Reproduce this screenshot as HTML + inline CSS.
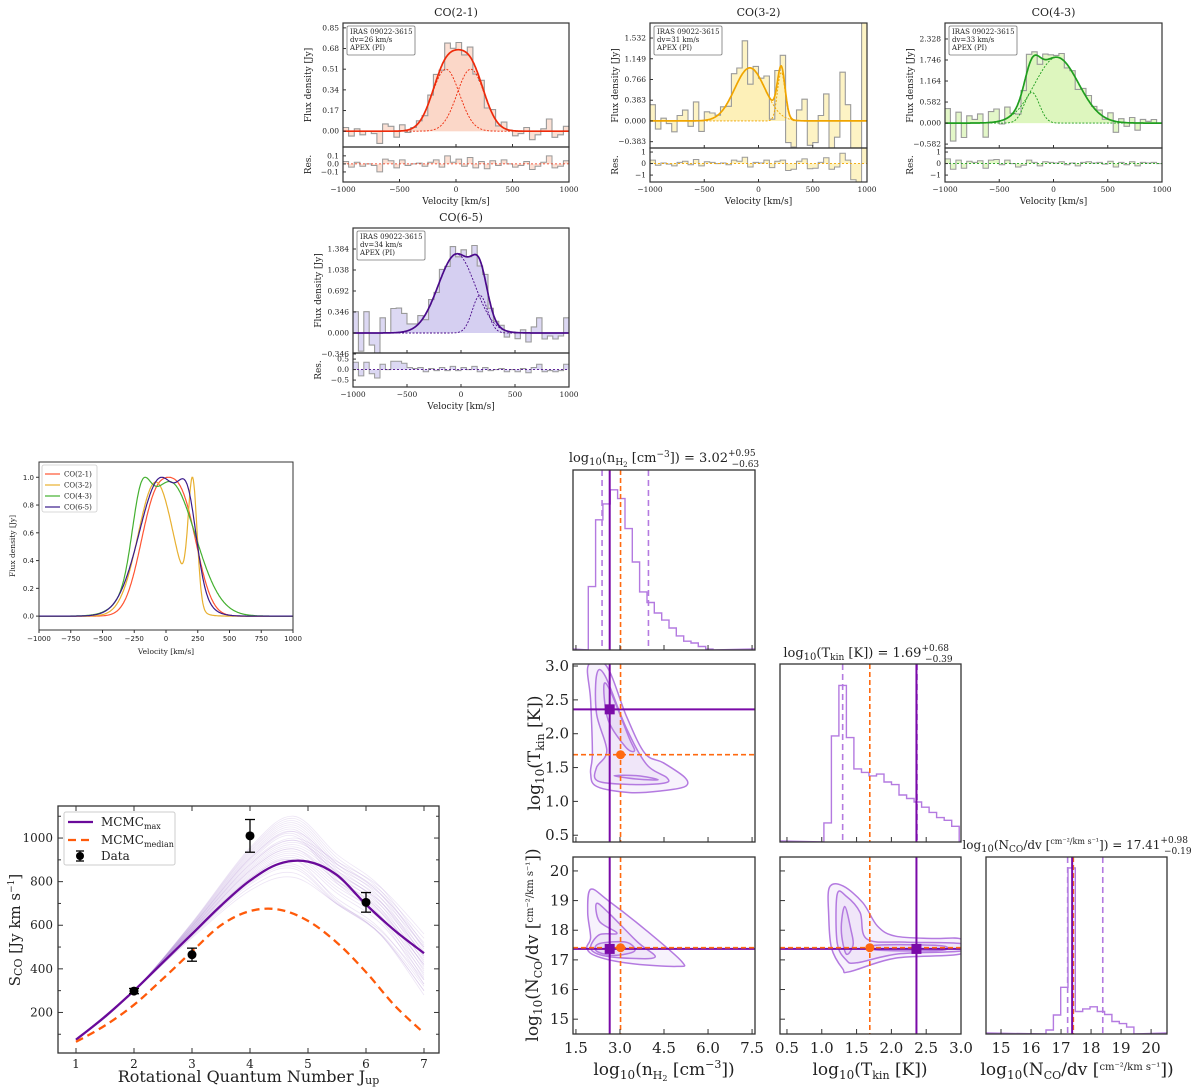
<!DOCTYPE html>
<html><head><meta charset="utf-8">
<style>
html,body{margin:0;padding:0;background:#fff;}
svg{display:block;font-family:"DejaVu Serif","Liberation Serif",serif;}
</style></head>
<body>
<svg id="fig" width="1200" height="1090" viewBox="0 0 1200 1090" xmlns="http://www.w3.org/2000/svg"></svg>
<script>
// ---------- DATA ----------
const binStart = -1000, binWidth = 50;
// Gaussian components [amp, centre, sigma]
const comps21 = [[0.51,-90,120],[0.51,130,120]];
const comps32 = [[0.98,-80,140],[0.90,210,35]];
const comps43 = [[0.85,-200,70],[1.82,30,200]];
const comps65 = [[1.30,-40,170],[0.62,175,70]];
// residuals per 50 km/s bin (Jy)
const res21 = [0.03,-0.04,0.02,-0.03,0.0,-0.02,-0.1,0.06,0.04,-0.05,0.05,-0.02,0.0,0.01,-0.03,0.02,0.05,-0.04,0.1,0.02,0.06,-0.03,0.08,-0.05,0.03,-0.06,0.04,-0.02,0.05,0.0,-0.04,-0.02,0.03,-0.07,-0.03,0.02,0.1,-0.05,-0.03,0.04];
const res32 = [0.3,-0.15,0.05,-0.05,-0.2,0.1,0.2,-0.1,0.35,-0.2,0.15,0.1,0.0,0.05,-0.1,0.3,0.2,0.55,-0.3,0.1,0.05,0.3,-0.35,0.2,0.3,-0.6,-0.5,0.2,0.4,-0.45,-0.4,0.1,0.5,-0.5,-0.3,0.9,0.3,-1.4,-1.8,2.2];
const res43 = [0.4,-0.5,0.3,-0.4,0.2,0.1,0.25,-0.4,0.3,0.35,-0.1,0.3,0.0,-0.3,-0.15,0.3,0.1,-0.2,0.15,0.1,0.05,0.15,-0.1,0.05,-0.2,0.1,0.15,0.05,0.1,-0.05,0.2,-0.3,0.1,-0.1,0.15,-0.2,0.1,0.05,0.1,0.0];
const res65 = [0.35,-0.3,0.35,-0.2,-0.4,0.25,0.0,0.4,0.4,0.3,0.1,0.05,0.1,-0.1,0.05,-0.05,0.1,-0.05,0.15,-0.05,0.1,0.0,0.15,-0.1,0.1,-0.05,0.0,0.05,-0.1,0.0,-0.1,0.05,-0.15,0.1,0.25,-0.1,-0.05,-0.1,-0.05,0.25];
const ticks21 = [0.00,0.17,0.34,0.51,0.68,0.85];
const ticks32 = [-0.383,0.000,0.383,0.766,1.149,1.532];
const ticks43 = [-0.582,0.000,0.582,1.164,1.746,2.328];
const ticks65 = [-0.346,0.000,0.346,0.692,1.038,1.384];
// SED
const sedJ = [1,1.5,2,2.5,3,3.5,4,4.5,5,5.5,6,6.5,7];
const sedMax = [75,180,300,430,560,690,805,882,892,830,695,575,472];
const sedMedian = [65,140,235,355,480,600,665,672,620,520,385,230,105];
const dataJ = [2,3,4,6];
const dataS = [298,465,1010,705];
const dataErr = [12,30,75,45];
const samplePeak = [860,880,900,910,920,930,940,950,960,970,980,990,1000,1010,1020,1030,1040,1050,1060,1070,1080,1090,1100,900,870,840,820,950,990,1030];
const sampleEnd = [300,330,360,380,400,420,440,460,480,500,520,540,560,330,350,370,390,410,430,450,470,490,510,280,300,320,350,420,460,500];
// corner histograms
const histN_start = 1.92, histN_w = 0.25;
const histN = [0.36,0.74,0.83,0.91,0.86,0.69,0.50,0.33,0.27,0.21,0.17,0.125,0.08,0.05,0.04,0.02,0.005];
const histT_start = 1.03, histT_w = 0.108;
const histT = [0.11,0.61,0.90,0.60,0.42,0.40,0.38,0.39,0.345,0.33,0.27,0.25,0.23,0.20,0.17,0.14,0.125,0.09];
const histC_start = 16.5, histC_w = 0.244;
const histC = [0.023,0.11,0.27,0.96,0.13,0.145,0.157,0.13,0.113,0.072,0.06,0.04];
const medN = 3.02, loN = 2.39, hiN = 3.97, maxN = 2.65;
const medT = 1.69, loT = 1.30, hiT = 2.37, maxT = 2.36;
const medC = 17.41, loC = 17.22, hiC = 18.39, maxC = 17.37;
// contours (data coords)
const contTN = [
 [[1.92,3.01],[2.54,3.0],[3.23,2.25],[3.85,1.71],[4.48,1.57],[5.22,1.35],[5.22,1.22],[4.48,1.16],[3.34,1.13],[2.21,1.22],[2.0,1.42],[2.06,1.71],[2.0,2.5]],
 [[2.21,2.88],[2.5,2.85],[3.2,2.1],[3.9,1.55],[4.6,1.35],[4.5,1.27],[3.4,1.25],[2.25,1.3],[2.2,1.5],[2.55,1.75],[2.2,2.3]],
 [[2.45,2.7],[2.65,2.65],[3.3,1.95],[3.5,1.75],[3.2,1.8],[2.6,2.2]],
 [[2.8,1.38],[3.6,1.33],[4.3,1.32],[3.6,1.38]]
];
const contCN = [
 [[2.0,19.38],[2.6,19.0],[3.85,18.03],[5.1,16.95],[4.94,16.78],[3.34,16.88],[2.21,17.12],[1.87,17.4],[2.0,17.75],[1.9,18.6]],
 [[2.2,18.9],[2.6,18.6],[3.6,17.6],[4.2,17.1],[3.4,17.05],[2.4,17.15],[2.0,17.4],[2.3,17.85],[2.9,17.9],[2.3,18.3]],
 [[2.3,17.55],[3.2,17.6],[3.5,17.3],[2.8,17.15],[2.2,17.3]]
];
const contCT = [
 [[1.11,19.44],[1.30,19.5],[1.59,18.93],[1.80,18.14],[2.06,17.80],[2.6,17.72],[3.0,17.7],[3.0,17.2],[2.06,17.06],[1.40,16.6],[1.30,16.7],[1.14,17.4],[1.1,18.5]],
 [[1.22,19.2],[1.35,19.15],[1.55,18.6],[1.65,17.7],[2.2,17.6],[3.0,17.55],[3.0,17.3],[2.1,17.2],[1.5,16.9],[1.35,17.0],[1.22,17.6]],
 [[1.33,18.8],[1.42,18.0],[1.45,17.5],[1.35,17.2],[1.28,18.0]],
 [[1.8,17.5],[2.7,17.48],[2.7,17.32],[1.8,17.33]]
];

// ---------- HELPERS ----------
const NS='http://www.w3.org/2000/svg';
const svg=document.getElementById('fig');
function mk(tag,attrs,parent){const e=document.createElementNS(NS,tag);for(const k in attrs)e.setAttribute(k,attrs[k]);(parent||svg).appendChild(e);return e;}
function txt(s,x,y,size,anchor,parent,extra){const t=mk('text',Object.assign({x:x,y:y,'font-size':size,'text-anchor':anchor||'middle',fill:'#222'},extra||{}),parent);t.innerHTML=s;return t;}
function lin(d0,d1,p0,p1){return v=>p0+(v-d0)/(d1-d0)*(p1-p0);}
function gsum(c,v){let s=0;for(const g of c)s+=g[0]*Math.exp(-(v-g[1])*(v-g[1])/(2*g[2]*g[2]));return s;}
function gone(g,v){return g[0]*Math.exp(-(v-g[1])*(v-g[1])/(2*g[2]*g[2]));}
function fmt(v,d){return v.toFixed(d).replace('-','\u2212');}
function crPath(pts,closed){
  const n=pts.length;let d='M'+pts[0][0].toFixed(1)+','+pts[0][1].toFixed(1);
  const get=i=>closed?pts[(i+n)%n]:pts[Math.max(0,Math.min(n-1,i))];
  const m=closed?n:n-1;
  for(let i=0;i<m;i++){const p0=get(i-1),p1=get(i),p2=get(i+1),p3=get(i+2);
    const c1=[p1[0]+(p2[0]-p0[0])/6,p1[1]+(p2[1]-p0[1])/6],c2=[p2[0]-(p3[0]-p1[0])/6,p2[1]-(p3[1]-p1[1])/6];
    d+='C'+c1[0].toFixed(1)+','+c1[1].toFixed(1)+' '+c2[0].toFixed(1)+','+c2[1].toFixed(1)+' '+p2[0].toFixed(1)+','+p2[1].toFixed(1);}
  return d+(closed?'Z':'');
}
function box(x0,y0,x1,y1,parent,sw){mk('rect',{x:x0,y:y0,width:x1-x0,height:y1-y0,fill:'none',stroke:'#333','stroke-width':sw||1.2},parent);}

// ---------- SPECTRA ----------
function spectrum(cfg){
  const g=mk('g',{});
  
  
  const X=lin(-1000,1000,cfg.x0,cfg.x1), Y=lin(cfg.yd[0],cfg.yd[1],cfg.yb,cfg.yt), R=lin(cfg.rd[0],cfg.rd[1],cfg.rb,cfg.yb);
  const cid='clip'+cfg.name;
  const cp=mk('clipPath',{id:cid},g);mk('rect',{x:cfg.x0,y:cfg.yt,width:cfg.x1-cfg.x0,height:cfg.yb-cfg.yt},cp);
  const cid2='clipr'+cfg.name;
  const cp2=mk('clipPath',{id:cid2},g);mk('rect',{x:cfg.x0,y:cfg.yb,width:cfg.x1-cfg.x0,height:cfg.rb-cfg.yb},cp2);
  const main=mk('g',{'clip-path':'url(#'+cid+')'},g);
  const resg=mk('g',{'clip-path':'url(#'+cid2+')'},g);
  let step='',fill='M'+X(binStart)+','+Y(0),rstep='',rfill='M'+X(binStart)+','+R(0);
  cfg.res.forEach((r,i)=>{const a=binStart+i*binWidth,b=a+binWidth,val=gsum(cfg.comps,a+binWidth/2)+r;
    step+=(i?'L':'M')+X(a).toFixed(1)+','+Y(val).toFixed(1)+'L'+X(b).toFixed(1)+','+Y(val).toFixed(1);
    fill+='L'+X(a).toFixed(1)+','+Y(val).toFixed(1)+'L'+X(b).toFixed(1)+','+Y(val).toFixed(1);
    rstep+=(i?'L':'M')+X(a).toFixed(1)+','+R(r).toFixed(1)+'L'+X(b).toFixed(1)+','+R(r).toFixed(1);
    rfill+='L'+X(a).toFixed(1)+','+R(r).toFixed(1)+'L'+X(b).toFixed(1)+','+R(r).toFixed(1);});
  fill+='L'+X(1000)+','+Y(0)+'Z'; rfill+='L'+X(1000)+','+R(0)+'Z';
  const f=mk('path',{d:fill,fill:cfg.light,stroke:'none'},main);
  
  let mf='M'+X(-1000)+','+Y(0);
  for(let v=-1000;v<=1000;v+=10)mf+='L'+X(v).toFixed(1)+','+Y(gsum(cfg.comps,v)).toFixed(1);
  mf+='L'+X(1000)+','+Y(0)+'Z';
  mk('path',{d:mf,fill:cfg.mid,stroke:'none',opacity:0.6},main);
  const s=mk('path',{d:step,fill:'none',stroke:'#9a9a9a','stroke-width':1.1},main);
  
  cfg.comps.forEach((c,k)=>{let d='';for(let v=-1000;v<=1000;v+=10)d+=(v>-1000?'L':'M')+X(v).toFixed(1)+','+Y(gone(c,v)).toFixed(1);
    const p=mk('path',{d:d,fill:'none',stroke:cfg.col,'stroke-width':0.9,'stroke-dasharray':'2,1.5'},main);
    });
  let d='';for(let v=-1000;v<=1000;v+=5)d+=(v>-1000?'L':'M')+X(v).toFixed(1)+','+Y(gsum(cfg.comps,v)).toFixed(1);
  const m=mk('path',{d:d,fill:'none',stroke:cfg.col,'stroke-width':1.7},main);
  
  mk('path',{d:rfill,fill:cfg.light,stroke:'none'},resg);
  mk('path',{d:rstep,fill:'none',stroke:'#9a9a9a','stroke-width':1},resg);
  mk('line',{x1:cfg.x0,x2:cfg.x1,y1:R(0),y2:R(0),stroke:cfg.col,'stroke-width':0.8,'stroke-dasharray':'2,2'},resg);
  box(cfg.x0,cfg.yt,cfg.x1,cfg.yb,g);box(cfg.x0,cfg.yb,cfg.x1,cfg.rb,g);
  [-1000,-500,0,500,1000].forEach(v=>{mk('line',{x1:X(v),x2:X(v),y1:cfg.rb,y2:cfg.rb-3,stroke:'#333'},g);
    mk('line',{x1:X(v),x2:X(v),y1:cfg.yb,y2:cfg.yb-3,stroke:'#333'},g);
    txt(fmt(v,0),X(v),cfg.rb+10,7.5,'middle',g);});
  cfg.ticks.forEach(v=>{const y=Y(v);mk('line',{x1:cfg.x0,x2:cfg.x0+3,y1:y,y2:y,stroke:'#333'},g);
    txt(fmt(v,cfg.dec),cfg.x0-4,y+2.5,7.5,'end',g);});
  cfg.rticks.forEach(v=>{const y=R(v);mk('line',{x1:cfg.x0,x2:cfg.x0+3,y1:y,y2:y,stroke:'#333'},g);
    txt(fmt(v,cfg.rdec),cfg.x0-4,y+2.5,7.5,'end',g);});
  txt(cfg.title,(cfg.x0+cfg.x1)/2,cfg.yt-7,11,'middle',g);
  txt('Velocity [km/s]',(cfg.x0+cfg.x1)/2,cfg.rb+22,9,'middle',g);
  const yl=cfg.x0-32;
  txt('Flux density [Jy]',yl,(cfg.yt+cfg.yb)/2,9,'middle',g,{transform:'rotate(-90 '+yl+' '+(cfg.yt+cfg.yb)/2+')'});
  txt('Res.',yl,(cfg.yb+cfg.rb)/2,9,'middle',g,{transform:'rotate(-90 '+yl+' '+(cfg.yb+cfg.rb)/2+')'});
  const ib=mk('g',{},g);
  mk('rect',{x:cfg.x0+4,y:cfg.yt+3,width:68,height:29,fill:'#fff',stroke:'#777','stroke-width':0.8,rx:1.5},ib);
  txt('IRAS 09022-3615',cfg.x0+7,cfg.yt+11,7,'start',ib);
  txt('dv='+cfg.dv+' km/s',cfg.x0+7,cfg.yt+19,7,'start',ib);
  txt('APEX (PI)',cfg.x0+7,cfg.yt+27,7,'start',ib);
}
spectrum({name:'co21-spectrum',title:'CO(2-1)',x0:343,x1:569,yt:23,yb:147,rb:182,yd:[-0.13,0.89],rd:[-0.225,0.21],comps:comps21,res:res21,ticks:ticks21,dec:2,rticks:[-0.1,0.0,0.1],rdec:1,col:'#ee2a0a',light:'#fbe0d4',mid:'#fbd0bf',dv:26});
spectrum({name:'co32-spectrum',title:'CO(3-2)',x0:650,x1:867,yt:23,yb:148,rb:182,yd:[-0.5,1.81],rd:[-1.6,1.35],comps:comps32,res:res32,ticks:ticks32,dec:3,rticks:[-1,0,1],rdec:0,col:'#f0a500',light:'#fdf3c4',mid:'#fdefb0',dv:31});
spectrum({name:'co43-spectrum',title:'CO(4-3)',x0:945,x1:1162,yt:23,yb:148,rb:182,yd:[-0.69,2.77],rd:[-1.6,1.35],comps:comps43,res:res43,ticks:ticks43,dec:3,rticks:[-1,0,1],rdec:0,col:'#1f9e1f',light:'#e3f7c8',mid:'#d8f5b8',dv:33});
spectrum({name:'co65-spectrum',title:'CO(6-5)',x0:353,x1:569,yt:228,yb:353,rb:387,yd:[-0.33,1.73],rd:[-0.83,0.79],comps:comps65,res:res65,ticks:ticks65,dec:3,rticks:[-0.5,0.0,0.5],rdec:1,col:'#4a0a8a',light:'#dcd8f3',mid:'#d0caf0',dv:34});

// ---------- OVERLAY ----------
(function(){
  const g=mk('g',{});
  const x0=39,x1=293,yt=462,yb=630;const X=lin(-1000,1000,x0,x1),Y=lin(-0.1,1.11,yb,yt);
  const sets=[['CO(2-1)',comps21,'#ff5533'],['CO(3-2)',comps32,'#e8b030'],['CO(4-3)',comps43,'#44b030'],['CO(6-5)',comps65,'#3a1a8a']];
  sets.forEach(s=>{let mx=0;for(let v=-1000;v<=1000;v+=5)mx=Math.max(mx,gsum(s[1],v));
    let d='';for(let v=-1000;v<=1000;v+=5)d+=(v>-1000?'L':'M')+X(v).toFixed(1)+','+Y(gsum(s[1],v)/mx).toFixed(1);
    const p=mk('path',{d:d,fill:'none',stroke:s[2],'stroke-width':1.2},g);
    });
  box(x0,yt,x1,yb,g,1);
  [-1000,-750,-500,-250,0,250,500,750,1000].forEach(v=>{mk('line',{x1:X(v),x2:X(v),y1:yb,y2:yb+3,stroke:'#333'},g);txt(fmt(v,0),X(v),yb+11,7,'middle',g,{'font-family':'DejaVu Sans,sans-serif'});});
  [0,0.2,0.4,0.6,0.8,1.0].forEach(v=>{mk('line',{x1:x0,x2:x0-3,y1:Y(v),y2:Y(v),stroke:'#333'},g);txt(v.toFixed(1),x0-5,Y(v)+2.5,7,'end',g,{'font-family':'DejaVu Sans,sans-serif'});});
  txt('Velocity [km/s]',(x0+x1)/2,yb+24,7.5,'middle',g);
  txt('Flux density [Jy]',15,(yt+yb)/2,7.5,'middle',g,{transform:'rotate(-90 15 '+(yt+yb)/2+')'});
  const lg=mk('g',{},g);
  mk('rect',{x:42,y:465,width:55,height:47,fill:'#fff',stroke:'#ccc','stroke-width':0.8,rx:2},lg);
  sets.forEach((s,i)=>{const y=474+i*11;mk('line',{x1:45,x2:60,y1:y,y2:y,stroke:s[2],'stroke-width':1.2},lg);txt(s[0],64,y+2.5,7,'start',lg);});
})();

// ---------- SED ----------
(function(){
  const g=mk('g',{});
  const x0=58,x1=439,yt=806,yb=1053;const X=lin(1,7,76,424),Y=lin(14,1147,yb,yt);
  const cp=mk('clipPath',{id:'sedclip'},g);mk('rect',{x:x0,y:yt,width:x1-x0,height:yb-yt},cp);
  const inner=mk('g',{'clip-path':'url(#sedclip)'},g);
  samplePeak.forEach((p,i)=>{const e=sampleEnd[i];
    const pts=[[1,75],[2,300],[3,560+0.25*(p-892)],[4,810+0.7*(p-892)],[4.75,p],[5.5,0.55*p+0.45*e+90],[6.25,0.35*p+0.65*e+60],[7,e]].map(q=>[X(q[0]),Y(q[1])]);
    const s=mk('path',{d:crPath(pts,false),fill:'none',stroke:'#9b6fc9','stroke-width':0.8,opacity:0.18},inner);
    });
  const mp=mk('path',{d:crPath(sedJ.map((j,i)=>[X(j),Y(sedMax[i])]),false),fill:'none',stroke:'#6a0a9a','stroke-width':2.3},inner);
  
  const md=mk('path',{d:crPath(sedJ.map((j,i)=>[X(j),Y(sedMedian[i])]),false),fill:'none',stroke:'#ff5a0a','stroke-width':2.3,'stroke-dasharray':'8,5'},inner);
  
  dataJ.forEach((j,i)=>{const x=X(j),y=Y(dataS[i]),e1=Y(dataS[i]+dataErr[i]),e2=Y(dataS[i]-dataErr[i]);
    const pg=mk('g',{},g);
    mk('line',{x1:x,x2:x,y1:e1,y2:e2,stroke:'#000','stroke-width':1.3},pg);
    mk('line',{x1:x-5,x2:x+5,y1:e1,y2:e1,stroke:'#000','stroke-width':1.3},pg);
    mk('line',{x1:x-5,x2:x+5,y1:e2,y2:e2,stroke:'#000','stroke-width':1.3},pg);
    mk('circle',{cx:x,cy:y,r:4.5,fill:'#000'},pg);});
  box(x0,yt,x1,yb,g,1.3);
  [1,2,3,4,5,6,7].forEach(v=>{mk('line',{x1:X(v),x2:X(v),y1:yb,y2:yb-5,stroke:'#333'},g);mk('line',{x1:X(v),x2:X(v),y1:yt,y2:yt+5,stroke:'#333'},g);txt(String(v),X(v),yb+15,12,'middle',g);});
  [200,400,600,800,1000].forEach(v=>{mk('line',{x1:x0,x2:x0+5,y1:Y(v),y2:Y(v),stroke:'#333'},g);mk('line',{x1:x1,x2:x1-5,y1:Y(v),y2:Y(v),stroke:'#333'},g);txt(String(v),x0-5,Y(v)+4,12,'end',g);});
  for(let v=100;v<1147;v+=100){if(v%200){mk('line',{x1:x0,x2:x0+3,y1:Y(v),y2:Y(v),stroke:'#333'},g);mk('line',{x1:x1,x2:x1-3,y1:Y(v),y2:Y(v),stroke:'#333'},g);}}
  txt('Rotational Quantum Number J<tspan font-size="11" dy="2">up</tspan>',(x0+x1)/2,1082,16,'middle',g);
  txt('S<tspan font-size="11" dy="2">CO</tspan><tspan dy="-2"> [Jy km s</tspan><tspan font-size="9" dy="-6">−1</tspan><tspan dy="6">]</tspan>',20,930,15,'middle',g,{transform:'rotate(-90 20 930)'});
  const lg=mk('g',{},g);
  mk('rect',{x:64,y:812,width:111,height:53,fill:'#fff',stroke:'#ccc','stroke-width':1,rx:2},lg);
  mk('line',{x1:68,x2:93,y1:822,y2:822,stroke:'#6a0a9a','stroke-width':2.3},lg);
  txt('MCMC<tspan font-size="8" dy="3">max</tspan>',101,826,12,'start',lg);
  mk('line',{x1:68,x2:93,y1:840,y2:840,stroke:'#ff5a0a','stroke-width':2.3,'stroke-dasharray':'8,5'},lg);
  txt('MCMC<tspan font-size="8" dy="3">median</tspan>',101,844,12,'start',lg);
  mk('line',{x1:80,x2:80,y1:851,y2:861,stroke:'#000','stroke-width':1.3},lg);
  mk('line',{x1:76,x2:84,y1:851,y2:851,stroke:'#000','stroke-width':1.3},lg);
  mk('line',{x1:76,x2:84,y1:861,y2:861,stroke:'#000','stroke-width':1.3},lg);
  mk('circle',{cx:80,cy:856,r:4},lg);
  txt('Data',101,860,12,'start',lg);
})();

// ---------- CORNER ----------
const P='#7a0aa8',PL='#b47ae0',OR='#ff6a10';
const cols=[[573,755,[1.4,7.6]],[780,961,[0.4,3.0]],[986,1167,[14.5,20.53]]];
const rows=[[470,650],[664,842,[0.4,3.03]],[857,1034,[14.5,20.47]]];
function panel(name,ci,ri){const g=mk('g',{});
  const c=cols[ci],r=rows[ri];const X=lin(c[2][0],c[2][1],c[0],c[1]);
  const id='cc'+ci+ri;const cp=mk('clipPath',{id:id},g);mk('rect',{x:c[0],y:r[0],width:c[1]-c[0],height:r[1]-r[0]},cp);
  const inner=mk('g',{'clip-path':'url(#'+id+')'},g);return {g,inner,X,c,r};}
function hist(name,ci,ri,start,w,vals,lo,med,hi,mx){
  const p=panel(name,ci,ri);const Y=lin(0,1,p.r[1],p.r[0]+4);
  let d='M'+p.X(start).toFixed(1)+','+p.r[1];
  vals.forEach((v,i)=>{d+='L'+p.X(start+i*w).toFixed(1)+','+Y(v).toFixed(1)+'L'+p.X(start+(i+1)*w).toFixed(1)+','+Y(v).toFixed(1);});
  d+='L'+p.X(start+vals.length*w).toFixed(1)+','+p.r[1];
  const h=mk('path',{d:'M'+p.c[0]+','+(p.r[1]-1)+'L'+d.slice(1)+'L'+p.c[1]+','+(p.r[1]-1),fill:'none',stroke:PL,'stroke-width':1.4},p.inner);
  
  [lo,hi].forEach(v=>mk('line',{x1:p.X(v),x2:p.X(v),y1:p.r[0],y2:p.r[1],stroke:PL,'stroke-width':1.6,'stroke-dasharray':'6,4'},p.inner));
  mk('line',{x1:p.X(med),x2:p.X(med),y1:p.r[0],y2:p.r[1],stroke:OR,'stroke-width':1.6,'stroke-dasharray':'5,3'},p.inner);
  mk('line',{x1:p.X(mx),x2:p.X(mx),y1:p.r[0],y2:p.r[1],stroke:P,'stroke-width':2},p.inner);
  box(p.c[0],p.r[0],p.c[1],p.r[1],p.g,1.3);return p;}
function joint(name,ci,ri,conts,mxX,mxY,mdX,mdY){
  const p=panel(name,ci,ri);const r=rows[ri];const Y=lin(r[2][0],r[2][1],r[1],r[0]);
  conts.forEach((ct,k)=>{const pts=ct.map(q=>[p.X(q[0]),Y(q[1])]);
    const c=mk('path',{d:crPath(pts,true),fill:'rgba(190,150,230,0.12)',stroke:PL,'stroke-width':1.5},p.inner);
    });
  mk('line',{x1:p.X(mxX),x2:p.X(mxX),y1:r[0],y2:r[1],stroke:P,'stroke-width':2},p.inner);
  mk('line',{x1:p.c[0],x2:p.c[1],y1:Y(mxY),y2:Y(mxY),stroke:P,'stroke-width':2},p.inner);
  mk('line',{x1:p.X(mdX),x2:p.X(mdX),y1:r[0],y2:r[1],stroke:OR,'stroke-width':1.6,'stroke-dasharray':'5,3'},p.inner);
  mk('line',{x1:p.c[0],x2:p.c[1],y1:Y(mdY),y2:Y(mdY),stroke:OR,'stroke-width':1.6,'stroke-dasharray':'5,3'},p.inner);
  const sq=mk('rect',{x:p.X(mxX)-5,y:Y(mxY)-5,width:10,height:10,fill:P},p.inner);
  
  const dt=mk('circle',{cx:p.X(mdX),cy:Y(mdY),r:4.5,fill:OR},p.inner);
  
  box(p.c[0],p.r[0],p.c[1],p.r[1],p.g,1.3);return {p,Y};}
function xticks(p,vals,dec,labels){vals.forEach(v=>{mk('line',{x1:p.X(v),x2:p.X(v),y1:p.r[1],y2:p.r[1]-5,stroke:'#333'},p.g);
  if(labels)txt(v.toFixed(dec),p.X(v),p.r[1]+19,15,'middle',p.g);});}
function yticks(p,Y,vals,dec,labels){vals.forEach(v=>{mk('line',{x1:p.c[0],x2:p.c[0]+5,y1:Y(v),y2:Y(v),stroke:'#333'},p.g);
  if(labels)txt(v.toFixed(dec),p.c[0]-4,Y(v)+5,15,'end',p.g);});}
const xtN=[1.5,3.0,4.5,6.0,7.5],xtT=[0.5,1.0,1.5,2.0,2.5,3.0],xtC=[15,16,17,18,19,20];
const ytT=[0.5,1.0,1.5,2.0,2.5,3.0],ytC=[15,16,17,18,19,20];
const h1=hist('hist-log-nh2',0,0,histN_start,histN_w,histN,loN,medN,hiN,maxN);xticks(h1,xtN,1,false);
const h2=hist('hist-log-tkin',1,1,histT_start,histT_w,histT,loT,medT,hiT,maxT);xticks(h2,xtT,1,false);
const h3=hist('hist-log-nco',2,2,histC_start,histC_w,histC,loC,medC,hiC,maxC);xticks(h3,xtC,0,true);
const j1=joint('joint-tkin-vs-nh2',0,1,contTN,maxN,maxT,medN,medT);xticks(j1.p,xtN,1,false);yticks(j1.p,j1.Y,ytT,1,true);
const j2=joint('joint-nco-vs-nh2',0,2,contCN,maxN,maxC,medN,medC);xticks(j2.p,xtN,1,true);yticks(j2.p,j2.Y,ytC,0,true);
const j3=joint('joint-nco-vs-tkin',1,2,contCT,maxT,maxC,medT,medC);xticks(j3.p,xtT,1,true);yticks(j3.p,j3.Y,ytC,0,false);
txt('log<tspan font-size="10" dy="3">10</tspan><tspan dy="-3">(n</tspan><tspan font-size="9" dy="3">H</tspan><tspan font-size="7" dy="2">2</tspan><tspan dy="-5"> [cm</tspan><tspan font-size="9" dy="-5">−3</tspan><tspan dy="5">]) = 3.02</tspan><tspan font-size="9" dy="-6">+0.95</tspan><tspan font-size="9" dx="-24" dy="11">−0.63</tspan>',664,462,13,'middle');
txt('log<tspan font-size="10" dy="3">10</tspan><tspan dy="-3">(T</tspan><tspan font-size="9" dy="3">kin</tspan><tspan dy="-3"> [K]) = 1.69</tspan><tspan font-size="9" dy="-6">+0.68</tspan><tspan font-size="9" dx="-24" dy="11">−0.39</tspan>',868,657,13,'middle');
txt('log<tspan font-size="10" dy="3">10</tspan><tspan dy="-3">(N</tspan><tspan font-size="9" dy="3">CO</tspan><tspan dy="-3">/dv [</tspan><tspan font-size="8" dy="-5">cm⁻²/km s⁻¹</tspan><tspan dy="5">]) = 17.41</tspan><tspan font-size="9" dy="-6">+0.98</tspan><tspan font-size="9" dx="-24" dy="11">−0.19</tspan>',1077,849,12,'middle');
txt('log<tspan font-size="12" dy="4">10</tspan><tspan dy="-4">(n</tspan><tspan font-size="11" dy="4">H</tspan><tspan font-size="8" dy="2">2</tspan><tspan dy="-6"> [cm</tspan><tspan font-size="11" dy="-7">−3</tspan><tspan dy="7">])</tspan>',664,1075,17,'middle');
txt('log<tspan font-size="12" dy="4">10</tspan><tspan dy="-4">(T</tspan><tspan font-size="11" dy="4">kin</tspan><tspan dy="-4"> [K])</tspan>',870,1075,17,'middle');
txt('log<tspan font-size="12" dy="4">10</tspan><tspan dy="-4">(N</tspan><tspan font-size="11" dy="4">CO</tspan><tspan dy="-4">/dv [</tspan><tspan font-size="10" dy="-5">cm⁻²/km s⁻¹</tspan><tspan dy="5">])</tspan>',1077,1075,17,'middle');
txt('log<tspan font-size="12" dy="4">10</tspan><tspan dy="-4">(T</tspan><tspan font-size="11" dy="4">kin</tspan><tspan dy="-4"> [K])</tspan>',540,753,17,'middle',null,{transform:'rotate(-90 540 753)'});
txt('log<tspan font-size="12" dy="4">10</tspan><tspan dy="-4">(N</tspan><tspan font-size="11" dy="4">CO</tspan><tspan dy="-4">/dv [</tspan><tspan font-size="10" dy="-5">cm⁻²/km s⁻¹</tspan><tspan dy="5">])</tspan>',538,945,17,'middle',null,{transform:'rotate(-90 538 945)'});
</script>
</body></html>
